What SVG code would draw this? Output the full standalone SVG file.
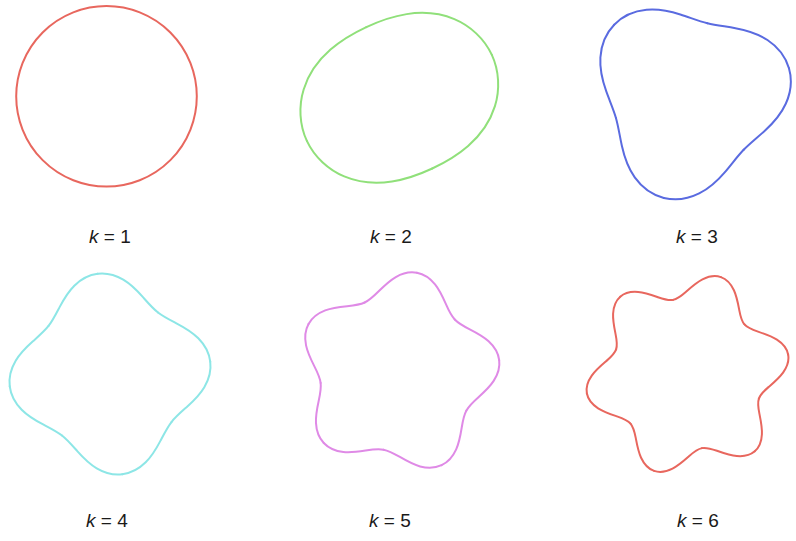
<svg xmlns="http://www.w3.org/2000/svg" xmlns:xlink="http://www.w3.org/1999/xlink" width="796" height="541" viewBox="0 0 796 541">
<style>
.lobe{fill:none;stroke-width:2;stroke-linecap:round;stroke-linejoin:round}
.red{stroke:#e8675e}
.green{stroke:#90e07a}
.blue{stroke:#5a6be0}
.cyan{stroke:#8de6e6}
.magenta{stroke:#df8ae6}
.lbl{font-family:"Liberation Sans",Arial,sans-serif;font-size:19px;fill:#1a1a1a;stroke:none}
.k{font-style:italic}
</style>
<defs>
<path id="h2" class="lobe" d="M102 0C102 17.802 94.658 35.304 83.138 48C71.618 60.696 56.511 68.557 42 72.746C27.489 76.935 13.614 78 0 78"/>
<path id="h3" class="lobe" d="M104 0C104 12.101 98.987 24.018 91.15 33.176C83.313 42.334 73.031 48.673 63.582 53.351C54.133 58.029 45.658 61.396 38 65.818"/>
<path id="h4" class="lobe" d="M101 0C101 8.814 97.514 17.523 92.005 24.652C86.496 31.781 79.195 37.283 72.53 41.875C65.865 46.467 59.967 50.341 55.154 55.154"/>
<path id="h5" class="lobe" d="M102 0C102 7.121 98.844 14.158 93.902 19.96C88.96 25.762 82.437 30.285 76.738 34.166C71.039 38.047 66.303 41.442 63.103 45.847"/>
<path id="h6" class="lobe" d="M102.5 0C102.5 5.963 99.281 11.85 94.295 16.627C89.309 21.404 82.762 25.031 77.29 28.131C71.818 31.231 67.581 33.946 65.385 37.75"/>
</defs>
<rect width="796" height="541" fill="#ffffff"/>

<g id="shape-k1">
<circle class="lobe red" cx="106.5" cy="96.3" r="90.3"/>
<text class="lbl" x="89" y="243"><tspan class="k">k</tspan> = 1</text>
</g>

<g id="shape-k2">
<g class="green" transform="translate(399.3 97.8) rotate(-25)">
<use href="#h2"/><use href="#h2" transform="scale(1 -1)"/>
<use href="#h2" transform="rotate(180)"/><use href="#h2" transform="rotate(180) scale(1 -1)"/>
</g>
<text class="lbl" x="370" y="243"><tspan class="k">k</tspan> = 2</text>
</g>

<g id="shape-k3">
<g class="blue" transform="translate(689 97) rotate(-16)">
<use href="#h3"/><use href="#h3" transform="scale(1 -1)"/>
<use href="#h3" transform="rotate(120)"/><use href="#h3" transform="rotate(120) scale(1 -1)"/>
<use href="#h3" transform="rotate(240)"/><use href="#h3" transform="rotate(240) scale(1 -1)"/>
</g>
<text class="lbl" x="676" y="243"><tspan class="k">k</tspan> = 3</text>
</g>

<g id="shape-k4">
<g class="cyan" transform="translate(110 374) rotate(-7)">
<use href="#h4"/><use href="#h4" transform="scale(1 -1)"/>
<use href="#h4" transform="rotate(90)"/><use href="#h4" transform="rotate(90) scale(1 -1)"/>
<use href="#h4" transform="rotate(180)"/><use href="#h4" transform="rotate(180) scale(1 -1)"/>
<use href="#h4" transform="rotate(270)"/><use href="#h4" transform="rotate(270) scale(1 -1)"/>
</g>
<text class="lbl" x="86" y="526.5"><tspan class="k">k</tspan> = 4</text>
</g>

<g id="shape-k5">
<g class="magenta" transform="translate(398 373) rotate(-7.3)">
<use href="#h5"/><use href="#h5" transform="scale(1 -1)"/>
<use href="#h5" transform="rotate(72)"/><use href="#h5" transform="rotate(72) scale(1 -1)"/>
<use href="#h5" transform="rotate(144)"/><use href="#h5" transform="rotate(144) scale(1 -1)"/>
<use href="#h5" transform="rotate(216)"/><use href="#h5" transform="rotate(216) scale(1 -1)"/>
<use href="#h5" transform="rotate(288)"/><use href="#h5" transform="rotate(288) scale(1 -1)"/>
</g>
<text class="lbl" x="369" y="526.5"><tspan class="k">k</tspan> = 5</text>
</g>

<g id="shape-k6">
<g class="red" transform="translate(687.5 374) rotate(-11)">
<use href="#h6"/><use href="#h6" transform="scale(1 -1)"/>
<use href="#h6" transform="rotate(60)"/><use href="#h6" transform="rotate(60) scale(1 -1)"/>
<use href="#h6" transform="rotate(120)"/><use href="#h6" transform="rotate(120) scale(1 -1)"/>
<use href="#h6" transform="rotate(180)"/><use href="#h6" transform="rotate(180) scale(1 -1)"/>
<use href="#h6" transform="rotate(240)"/><use href="#h6" transform="rotate(240) scale(1 -1)"/>
<use href="#h6" transform="rotate(300)"/><use href="#h6" transform="rotate(300) scale(1 -1)"/>
</g>
<text class="lbl" x="677" y="526.5"><tspan class="k">k</tspan> = 6</text>
</g>
</svg>
